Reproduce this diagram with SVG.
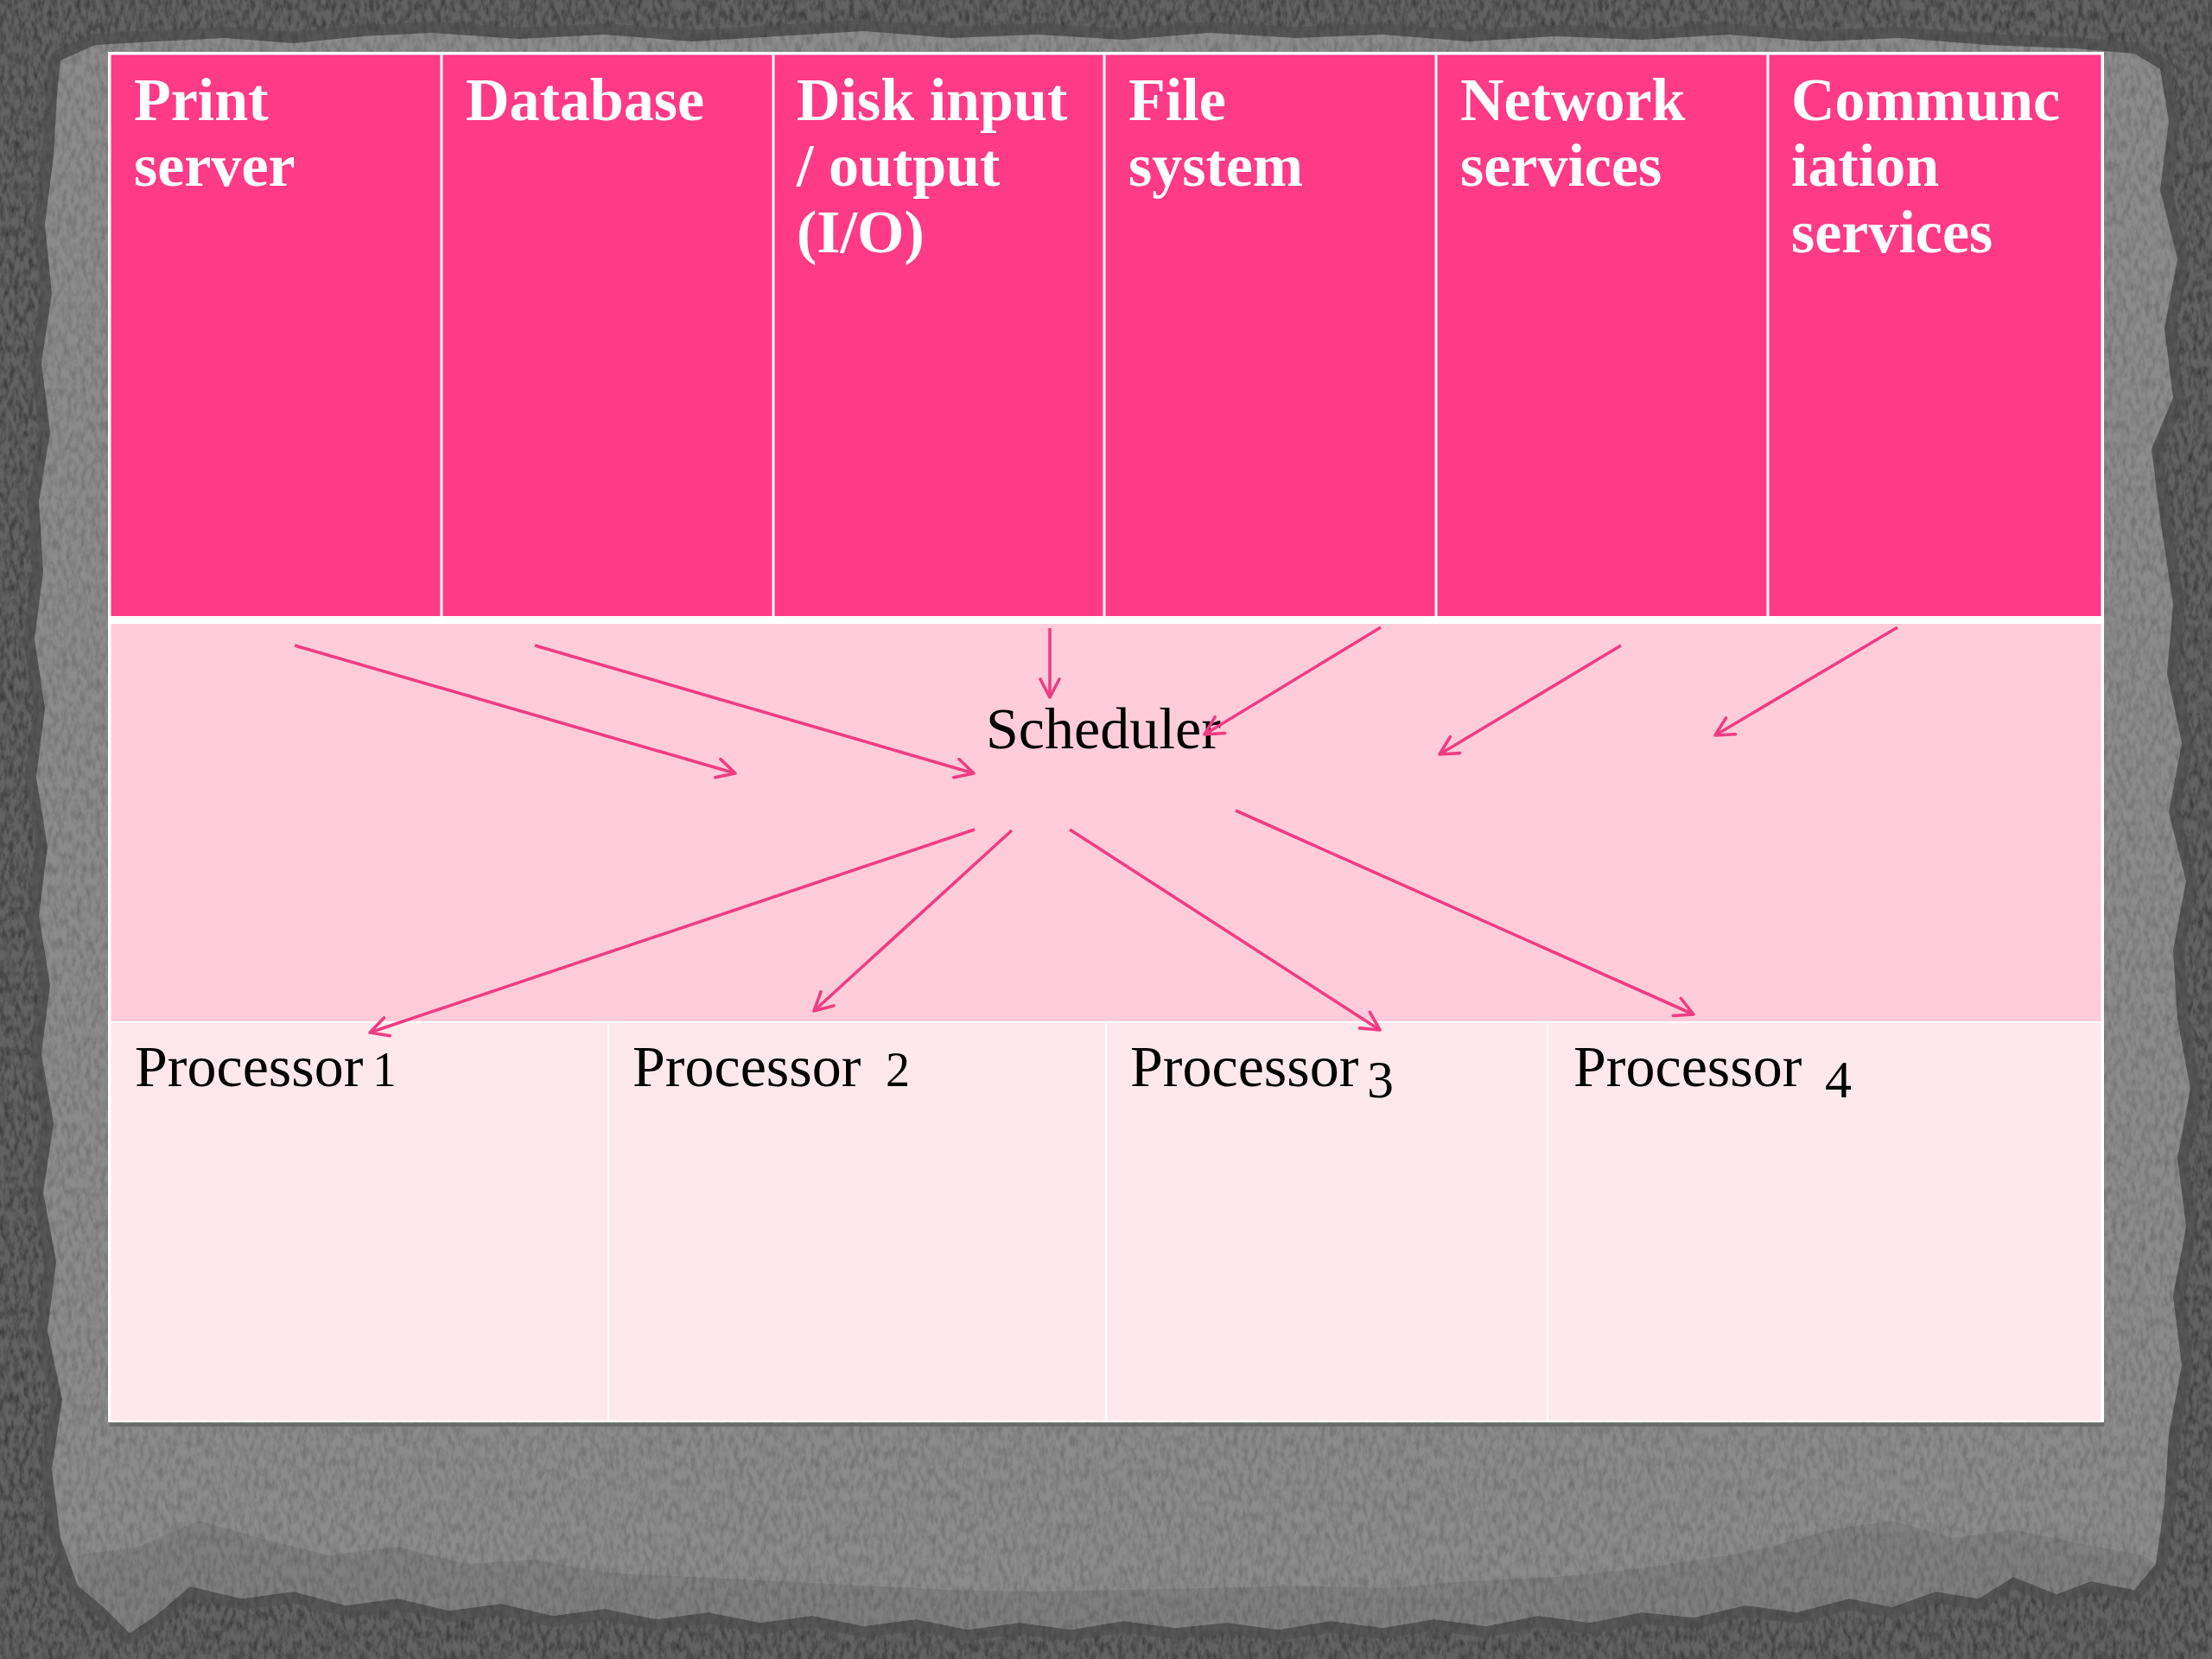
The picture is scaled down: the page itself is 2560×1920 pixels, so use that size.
<svg xmlns="http://www.w3.org/2000/svg" width="2560" height="1920" viewBox="0 0 2560 1920">
<style>
  .hdr { font-family: "Liberation Serif", "DejaVu Serif", serif; font-weight: bold; font-size: 70px; fill: #ffffff; }
  .lbl { font-family: "Liberation Serif", "DejaVu Serif", serif; font-size: 68px; fill: #000000; }
  .num { font-size: 56px; }
  .numd { font-size: 62px; }
  .hcell { fill: #FF3A87; }
  .scell { fill: #FFCCDB; }
  .pcell { fill: #FFE8ED; }
  .conn line { stroke: #F03C82; stroke-width: 3.6; fill: none; marker-end: url(#ah); }
</style>
<defs>
  <marker id="ah" viewBox="-24 -13 27 26" refX="0" refY="0" markerWidth="27" markerHeight="26" markerUnits="userSpaceOnUse" orient="auto">
    <path d="M-21,-11 L0,0 L-21,11" fill="none" stroke="#F03C82" stroke-width="3.6" stroke-linecap="round" stroke-linejoin="round"/>
  </marker>
  <filter id="grain" x="0" y="0" width="100%" height="100%" filterUnits="objectBoundingBox">
    <feTurbulence type="fractalNoise" baseFrequency="0.18 0.08" numOctaves="3" seed="7" result="n"/>
    <feColorMatrix in="n" type="matrix" values="0 0 0 0 0  0 0 0 0 0  0 0 0 0 0  0.8 0 0 0 -0.3" result="a"/>
    <feComposite in="a" in2="SourceAlpha" operator="in"/>
  </filter>
</defs>

<g id="background">
  <rect x="0" y="0" width="2560" height="1920" fill="#626262"/>
  <rect x="0" y="0" width="2560" height="1920" fill="#000" filter="url(#grain)"/>
  <polygon id="paper-shadow" fill="none" stroke="#4e4e4e" stroke-width="26" stroke-linejoin="round" opacity="0.6"
    points="70,70 110,52 180,48 260,44 340,50 420,42 500,38 600,45 700,40 800,48 900,42 1000,36 1100,44 1200,40 1300,46 1400,38 1500,44 1600,40 1700,48 1800,42 1900,46 2000,40 2100,48 2200,44 2300,52 2400,56 2470,62 2500,80 2510,140 2500,220 2520,300 2505,380 2515,460 2490,520 2500,600 2515,700 2508,780 2525,860 2510,940 2530,1020 2515,1100 2520,1180 2535,1260 2520,1340 2530,1420 2515,1500 2525,1580 2510,1660 2505,1740 2495,1810 2470,1840 2420,1830 2380,1845 2330,1825 2290,1850 2240,1842 2190,1860 2140,1850 2080,1866 2020,1858 1960,1872 1900,1866 1840,1878 1780,1870 1720,1882 1660,1874 1600,1884 1540,1876 1480,1886 1420,1878 1360,1884 1300,1876 1240,1886 1180,1878 1120,1886 1060,1874 1000,1882 940,1870 880,1878 820,1866 760,1874 700,1862 640,1870 580,1856 520,1864 460,1850 400,1858 340,1842 280,1850 220,1836 180,1870 150,1890 120,1860 90,1835 70,1780 60,1700 72,1620 55,1540 65,1460 50,1380 62,1300 48,1220 58,1140 45,1060 55,980 42,900 52,820 40,740 50,660 45,580 58,500 48,420 60,340 52,260 62,180 66,110"/>
  <polygon id="paper" fill="#8b8b8b"
    points="70,70 110,52 180,48 260,44 340,50 420,42 500,38 600,45 700,40 800,48 900,42 1000,36 1100,44 1200,40 1300,46 1400,38 1500,44 1600,40 1700,48 1800,42 1900,46 2000,40 2100,48 2200,44 2300,52 2400,56 2470,62 2500,80 2510,140 2500,220 2520,300 2505,380 2515,460 2490,520 2500,600 2515,700 2508,780 2525,860 2510,940 2530,1020 2515,1100 2520,1180 2535,1260 2520,1340 2530,1420 2515,1500 2525,1580 2510,1660 2505,1740 2495,1810 2470,1840 2420,1830 2380,1845 2330,1825 2290,1850 2240,1842 2190,1860 2140,1850 2080,1866 2020,1858 1960,1872 1900,1866 1840,1878 1780,1870 1720,1882 1660,1874 1600,1884 1540,1876 1480,1886 1420,1878 1360,1884 1300,1876 1240,1886 1180,1878 1120,1886 1060,1874 1000,1882 940,1870 880,1878 820,1866 760,1874 700,1862 640,1870 580,1856 520,1864 460,1850 400,1858 340,1842 280,1850 220,1836 180,1870 150,1890 120,1860 90,1835 70,1780 60,1700 72,1620 55,1540 65,1460 50,1380 62,1300 48,1220 58,1140 45,1060 55,980 42,900 52,820 40,740 50,660 45,580 58,500 48,420 60,340 52,260 62,180 66,110"/>
  <polygon fill="#787878" opacity="0.6"
    points="90,1800 160,1790 230,1760 300,1780 380,1800 460,1790 540,1810 620,1805 700,1820 800,1825 900,1830 1000,1835 1100,1840 1200,1842 1300,1840 1400,1838 1500,1835 1600,1838 1700,1830 1800,1825 1900,1815 2000,1800 2050,1790 2120,1770 2190,1760 2260,1780 2330,1770 2400,1785 2480,1800 2495,1810 2470,1840 2420,1830 2380,1845 2330,1825 2290,1850 2240,1842 2190,1860 2140,1850 2080,1866 2020,1858 1960,1872 1900,1866 1840,1878 1780,1870 1720,1882 1660,1874 1600,1884 1540,1876 1480,1886 1420,1878 1360,1884 1300,1876 1240,1886 1180,1878 1120,1886 1060,1874 1000,1882 940,1870 880,1878 820,1866 760,1874 700,1862 640,1870 580,1856 520,1864 460,1850 400,1858 340,1842 280,1850 220,1836 180,1870 150,1890 120,1860 90,1835"/>
  <polygon fill="#000" filter="url(#grain)" opacity="0.45"
    points="70,70 110,52 180,48 260,44 340,50 420,42 500,38 600,45 700,40 800,48 900,42 1000,36 1100,44 1200,40 1300,46 1400,38 1500,44 1600,40 1700,48 1800,42 1900,46 2000,40 2100,48 2200,44 2300,52 2400,56 2470,62 2500,80 2510,140 2500,220 2520,300 2505,380 2515,460 2490,520 2500,600 2515,700 2508,780 2525,860 2510,940 2530,1020 2515,1100 2520,1180 2535,1260 2520,1340 2530,1420 2515,1500 2525,1580 2510,1660 2505,1740 2495,1810 2470,1840 2420,1830 2380,1845 2330,1825 2290,1850 2240,1842 2190,1860 2140,1850 2080,1866 2020,1858 1960,1872 1900,1866 1840,1878 1780,1870 1720,1882 1660,1874 1600,1884 1540,1876 1480,1886 1420,1878 1360,1884 1300,1876 1240,1886 1180,1878 1120,1886 1060,1874 1000,1882 940,1870 880,1878 820,1866 760,1874 700,1862 640,1870 580,1856 520,1864 460,1850 400,1858 340,1842 280,1850 220,1836 180,1870 150,1890 120,1860 90,1835 70,1780 60,1700 72,1620 55,1540 65,1460 50,1380 62,1300 48,1220 58,1140 45,1060 55,980 42,900 52,820 40,740 50,660 45,580 58,500 48,420 60,340 52,260 62,180 66,110"/>
  <rect x="127" y="1647" width="2308" height="4" fill="#6a6a6a"/>
</g>

<g id="table">
  <rect x="125" y="60" width="2310" height="1586" fill="#ffffff"/>
</g>

<g id="n-print">
  <rect class="hcell" x="128.5" y="63.5" width="381" height="649.5"/>
  <text class="hdr"><tspan x="155" y="139">Print</tspan><tspan x="155" y="215">server</tspan></text>
</g>
<g id="n-database">
  <rect class="hcell" x="512.5" y="63.5" width="381" height="649.5"/>
  <text class="hdr" x="539" y="139">Database</text>
</g>
<g id="n-diskio">
  <rect class="hcell" x="896.5" y="63.5" width="380" height="649.5"/>
  <text class="hdr"><tspan x="922" y="139">Disk input</tspan><tspan x="922" y="215">/ output</tspan><tspan x="922" y="292">(I/O)</tspan></text>
</g>
<g id="n-filesys">
  <rect class="hcell" x="1279.5" y="63.5" width="381" height="649.5"/>
  <text class="hdr"><tspan x="1306" y="139">File</tspan><tspan x="1306" y="215">system</tspan></text>
</g>
<g id="n-network">
  <rect class="hcell" x="1663.5" y="63.5" width="381" height="649.5"/>
  <text class="hdr"><tspan x="1690" y="139">Network</tspan><tspan x="1690" y="215">services</tspan></text>
</g>
<g id="n-comm">
  <rect class="hcell" x="2047.5" y="63.5" width="384" height="649.5"/>
  <text class="hdr"><tspan x="2073" y="139">Communc</tspan><tspan x="2073" y="215">iation</tspan><tspan x="2073" y="292">services</tspan></text>
</g>

<g id="n-scheduler">
  <rect class="scell" x="128.5" y="722" width="2303" height="460"/>
  <text class="lbl" x="1141" y="866">Scheduler</text>
</g>

<g id="n-p1">
  <rect class="pcell" x="128.5" y="1184" width="574.5" height="460"/>
  <text class="lbl"><tspan x="156" y="1257">Processor</tspan><tspan class="num" x="431" y="1257">1</tspan></text>
</g>
<g id="n-p2">
  <rect class="pcell" x="705" y="1184" width="574" height="460"/>
  <text class="lbl"><tspan x="732" y="1257">Processor</tspan><tspan class="num" x="1025" y="1257">2</tspan></text>
</g>
<g id="n-p3">
  <rect class="pcell" x="1281" y="1184" width="509" height="460"/>
  <text class="lbl"><tspan x="1308" y="1257">Processor</tspan><tspan class="numd" x="1582" y="1270">3</tspan></text>
</g>
<g id="n-p4">
  <rect class="pcell" x="1792" y="1184" width="639.5" height="460"/>
  <text class="lbl"><tspan x="1821" y="1257">Processor</tspan><tspan class="numd" x="2112" y="1270">4</tspan></text>
</g>

<g id="connectors" class="conn">
  <line x1="341" y1="747" x2="851" y2="895"/>
  <line x1="619" y1="747" x2="1127" y2="895"/>
  <line x1="1215" y1="727" x2="1215" y2="807"/>
  <line x1="1598" y1="726" x2="1394" y2="850"/>
  <line x1="1876" y1="747" x2="1666" y2="873"/>
  <line x1="2196" y1="726" x2="1985" y2="851"/>
  <line x1="1128" y1="960" x2="428" y2="1195"/>
  <line x1="1171" y1="961" x2="942" y2="1170"/>
  <line x1="1238" y1="960" x2="1597" y2="1192"/>
  <line x1="1430" y1="938" x2="1960" y2="1174"/>
</g>
</svg>
